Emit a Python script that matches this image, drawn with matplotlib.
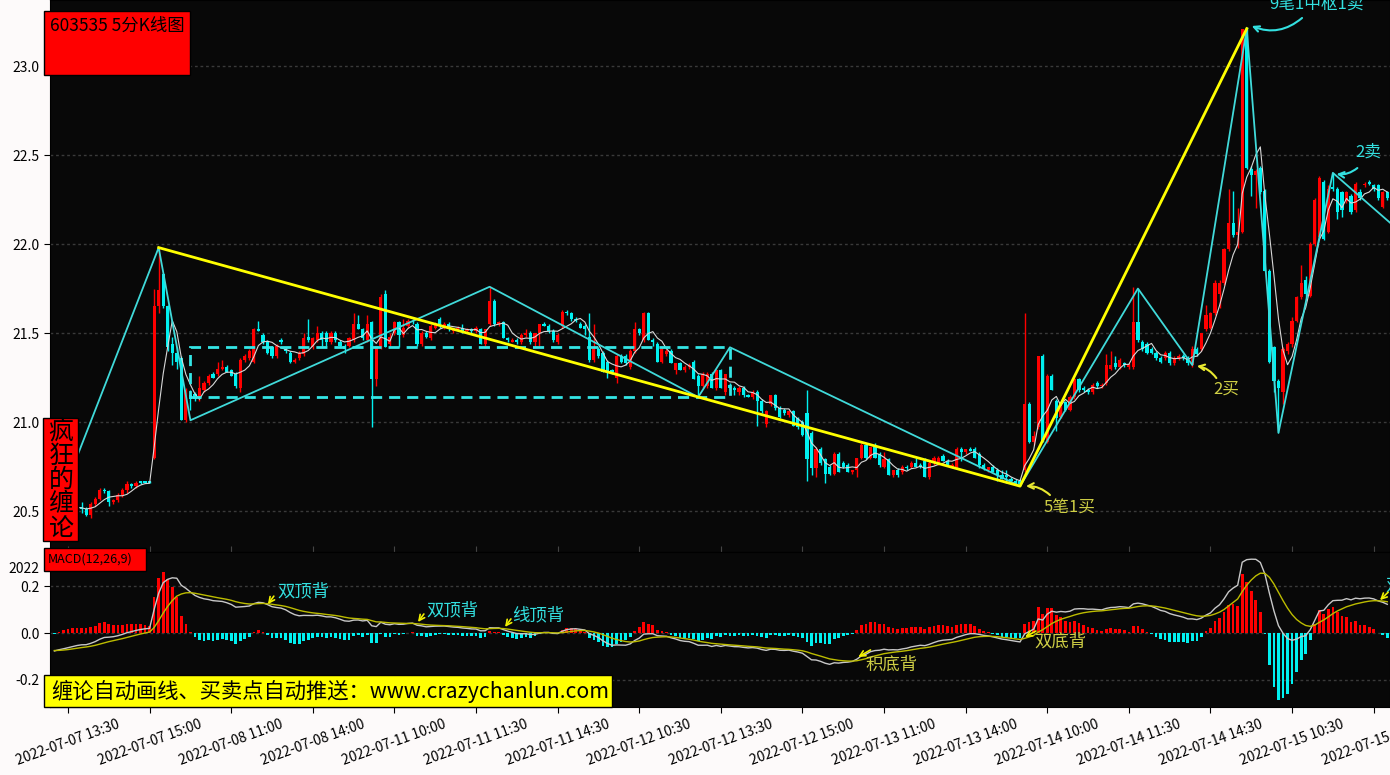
import numpy as np
import pandas as pd
import matplotlib
matplotlib.use('Agg')
import matplotlib.pyplot as plt
from matplotlib.patches import Rectangle

plt.rcParams['font.family'] = ['Noto Sans CJK SC', 'DejaVu Sans']
plt.rcParams['axes.unicode_minus'] = False

W, H = 1390, 775

# 5 min bars, 2022-07-07 13:15 ... 2022-07-15 13:50
opens = [
    20.53, 20.50, 20.52, 20.51, 20.52, 20.53, 20.52, 20.51, 20.48, 20.54,
    20.57, 20.62, 20.61, 20.55, 20.56, 20.59, 20.62, 20.65, 20.64, 20.67,
    20.67, 20.67, 20.80, 21.65, 21.83, 21.65, 21.44, 21.39, 21.36, 21.01,
    21.15, 21.16, 21.13, 21.18, 21.22, 21.27, 21.27, 21.30, 21.31, 21.29,
    21.27, 21.19, 21.35, 21.36, 21.34, 21.52, 21.49, 21.45, 21.42, 21.37,
    21.46, 21.41, 21.39, 21.34, 21.36, 21.38, 21.48, 21.42, 21.46, 21.50,
    21.50, 21.45, 21.50, 21.45, 21.43, 21.43, 21.46, 21.55, 21.52, 21.46,
    21.56, 21.24, 21.43, 21.72, 21.44, 21.50, 21.56, 21.49, 21.54, 21.57,
    21.55, 21.44, 21.50, 21.47, 21.53, 21.58, 21.53, 21.55, 21.51, 21.52,
    21.53, 21.51, 21.52, 21.51, 21.52, 21.44, 21.55, 21.68, 21.55, 21.56,
    21.47, 21.45, 21.46, 21.45, 21.49, 21.50, 21.45, 21.50, 21.55, 21.54,
    21.51, 21.45, 21.54, 21.62, 21.61, 21.58, 21.55, 21.54, 21.48, 21.35,
    21.41, 21.39, 21.34, 21.29, 21.25, 21.37, 21.37, 21.31, 21.40, 21.52,
    21.46, 21.61, 21.46, 21.44, 21.34, 21.38, 21.40, 21.29, 21.33, 21.29,
    21.31, 21.34, 21.26, 21.20, 21.20, 21.27, 21.19, 21.29, 21.17, 21.21,
    21.19, 21.17, 21.19, 21.15, 21.14, 21.17, 21.12, 20.99, 21.10, 21.15,
    21.08, 21.07, 21.04, 21.06, 21.02, 21.00, 21.05, 20.94, 20.74, 20.85,
    20.79, 20.75, 20.71, 20.82, 20.77, 20.76, 20.72, 20.73, 20.80, 20.87,
    20.80, 20.86, 20.82, 20.75, 20.79, 20.70, 20.73, 20.72, 20.75, 20.75,
    20.77, 20.76, 20.78, 20.69, 20.77, 20.77, 20.81, 20.78, 20.75, 20.75,
    20.85, 20.83, 20.85, 20.85, 20.82, 20.76, 20.73, 20.75, 20.73, 20.70,
    20.70, 20.68, 20.67, 20.67, 20.73, 21.10, 20.89, 20.97, 21.37, 20.89,
    21.26, 21.12, 21.03, 21.11, 21.07, 21.14, 21.24, 21.19, 21.18, 21.17,
    21.22, 21.20, 21.22, 21.30, 21.33, 21.31, 21.33, 21.31, 21.31, 21.56,
    21.45, 21.44, 21.41, 21.39, 21.36, 21.36, 21.39, 21.33, 21.36, 21.37,
    21.36, 21.32, 21.41, 21.41, 21.52, 21.53, 21.61, 21.72, 21.78, 21.97,
    22.12, 22.05, 22.07, 23.21, 22.42, 22.39, 22.43, 22.30, 21.85, 21.42,
    21.23, 21.17, 21.40, 21.44, 21.57, 21.70, 21.80, 21.71, 22.00, 22.04,
    22.35, 22.07, 22.32, 22.31, 22.29, 22.24, 22.27, 22.19, 22.29, 22.33,
    22.35, 22.33, 22.33, 22.21, 22.29,
]
highs = [
    20.54, 20.53, 20.54, 20.53, 20.54, 20.55, 20.55, 20.52, 20.55, 20.58,
    20.63, 20.63, 20.62, 20.57, 20.60, 20.63, 20.67, 20.66, 20.67, 20.67,
    20.67, 20.67, 21.75, 21.98, 21.84, 21.66, 21.48, 21.42, 21.37, 21.19,
    21.18, 21.17, 21.26, 21.23, 21.27, 21.28, 21.34, 21.35, 21.32, 21.30,
    21.28, 21.36, 21.38, 21.41, 21.53, 21.57, 21.50, 21.46, 21.43, 21.44,
    21.47, 21.42, 21.40, 21.36, 21.40, 21.50, 21.58, 21.48, 21.54, 21.51,
    21.51, 21.51, 21.51, 21.46, 21.44, 21.48, 21.61, 21.60, 21.53, 21.60,
    21.57, 21.43, 21.72, 21.74, 21.50, 21.57, 21.57, 21.58, 21.58, 21.58,
    21.56, 21.51, 21.51, 21.55, 21.56, 21.59, 21.56, 21.56, 21.53, 21.54,
    21.55, 21.53, 21.53, 21.54, 21.53, 21.52, 21.76, 21.69, 21.57, 21.57,
    21.48, 21.47, 21.47, 21.50, 21.52, 21.51, 21.50, 21.55, 21.56, 21.55,
    21.52, 21.50, 21.63, 21.63, 21.62, 21.59, 21.56, 21.55, 21.61, 21.55,
    21.42, 21.40, 21.35, 21.30, 21.38, 21.38, 21.38, 21.41, 21.56, 21.53,
    21.62, 21.62, 21.47, 21.45, 21.42, 21.41, 21.41, 21.33, 21.34, 21.32,
    21.33, 21.35, 21.27, 21.28, 21.28, 21.28, 21.30, 21.30, 21.27, 21.22,
    21.20, 21.20, 21.20, 21.16, 21.18, 21.18, 21.13, 21.07, 21.15, 21.16,
    21.09, 21.08, 21.07, 21.07, 21.03, 21.01, 21.18, 20.95, 20.86, 20.86,
    20.80, 20.76, 20.83, 20.83, 20.78, 20.77, 20.73, 20.80, 20.88, 20.88,
    20.86, 20.88, 20.83, 20.83, 20.80, 20.73, 20.74, 20.76, 20.76, 20.78,
    20.80, 20.77, 20.80, 20.78, 20.81, 20.81, 20.82, 20.79, 20.77, 20.86,
    20.86, 20.85, 20.86, 20.86, 20.83, 20.77, 20.75, 20.76, 20.74, 20.73,
    20.73, 20.69, 20.68, 20.68, 21.61, 21.11, 20.95, 21.37, 21.38, 21.27,
    21.27, 21.13, 21.12, 21.12, 21.15, 21.25, 21.25, 21.20, 21.19, 21.22,
    21.23, 21.22, 21.38, 21.40, 21.37, 21.36, 21.34, 21.33, 21.76, 21.75,
    21.46, 21.45, 21.42, 21.40, 21.37, 21.40, 21.40, 21.37, 21.38, 21.38,
    21.37, 21.43, 21.42, 21.50, 21.66, 21.62, 21.80, 21.80, 21.98, 22.31,
    22.30, 22.20, 23.21, 23.22, 22.44, 22.42, 22.44, 22.31, 21.86, 21.43,
    21.24, 21.42, 21.45, 21.59, 21.71, 21.88, 21.82, 22.01, 22.26, 22.38,
    22.36, 22.33, 22.40, 22.32, 22.30, 22.30, 22.28, 22.35, 22.31, 22.35,
    22.36, 22.34, 22.34, 22.30, 22.30,
]
lows = [
    20.48, 20.49, 20.50, 20.50, 20.51, 20.51, 20.49, 20.47, 20.46, 20.53,
    20.56, 20.60, 20.53, 20.54, 20.55, 20.58, 20.60, 20.63, 20.63, 20.65,
    20.66, 20.66, 20.79, 21.61, 21.64, 21.40, 21.32, 21.30, 21.01, 21.00,
    21.07, 21.12, 21.12, 21.17, 21.21, 21.25, 21.26, 21.29, 21.28, 21.26,
    21.19, 21.17, 21.34, 21.35, 21.33, 21.51, 21.44, 21.38, 21.36, 21.36,
    21.44, 21.39, 21.33, 21.33, 21.35, 21.37, 21.45, 21.41, 21.45, 21.43,
    21.43, 21.44, 21.45, 21.42, 21.39, 21.42, 21.45, 21.52, 21.46, 21.45,
    20.97, 21.20, 21.41, 21.42, 21.43, 21.49, 21.42, 21.48, 21.53, 21.55,
    21.43, 21.43, 21.47, 21.46, 21.52, 21.53, 21.52, 21.51, 21.50, 21.51,
    21.50, 21.50, 21.50, 21.50, 21.44, 21.43, 21.54, 21.54, 21.54, 21.47,
    21.45, 21.45, 21.44, 21.44, 21.48, 21.44, 21.42, 21.43, 21.54, 21.50,
    21.45, 21.44, 21.53, 21.60, 21.57, 21.56, 21.53, 21.49, 21.34, 21.34,
    21.36, 21.28, 21.25, 21.27, 21.22, 21.33, 21.32, 21.30, 21.39, 21.49,
    21.45, 21.46, 21.43, 21.34, 21.33, 21.37, 21.33, 21.27, 21.29, 21.28,
    21.30, 21.24, 21.15, 21.19, 21.19, 21.19, 21.18, 21.19, 21.15, 21.18,
    21.15, 21.15, 21.14, 21.14, 21.13, 20.98, 21.05, 20.97, 21.09, 21.07,
    21.02, 21.04, 21.03, 20.98, 20.96, 20.92, 20.67, 20.70, 20.69, 20.76,
    20.66, 20.70, 20.70, 20.72, 20.74, 20.72, 20.71, 20.69, 20.79, 20.79,
    20.79, 20.80, 20.75, 20.74, 20.70, 20.69, 20.69, 20.71, 20.73, 20.74,
    20.75, 20.74, 20.69, 20.68, 20.76, 20.76, 20.78, 20.76, 20.74, 20.74,
    20.78, 20.82, 20.84, 20.80, 20.74, 20.73, 20.72, 20.72, 20.67, 20.68,
    20.66, 20.67, 20.65, 20.64, 20.72, 20.88, 20.87, 20.96, 20.89, 20.88,
    21.18, 20.95, 21.02, 21.06, 21.06, 21.13, 21.17, 21.17, 21.16, 21.16,
    21.19, 21.19, 21.21, 21.29, 21.30, 21.30, 21.31, 21.30, 21.30, 21.45,
    21.40, 21.38, 21.38, 21.35, 21.33, 21.35, 21.32, 21.32, 21.35, 21.35,
    21.32, 21.31, 21.37, 21.40, 21.51, 21.52, 21.60, 21.64, 21.77, 21.96,
    22.04, 21.98, 22.06, 22.42, 22.27, 22.20, 22.28, 21.85, 21.33, 21.17,
    20.94, 21.10, 21.38, 21.42, 21.56, 21.69, 21.70, 21.70, 21.99, 22.02,
    22.02, 22.06, 22.30, 22.14, 22.15, 22.23, 22.17, 22.18, 22.25, 22.32,
    22.33, 22.30, 22.25, 22.20, 22.25,
]
closes = [
    20.50, 20.52, 20.51, 20.52, 20.53, 20.52, 20.51, 20.48, 20.54, 20.57,
    20.62, 20.61, 20.55, 20.56, 20.59, 20.62, 20.65, 20.64, 20.66, 20.66,
    20.66, 20.66, 21.65, 21.74, 21.65, 21.42, 21.39, 21.34, 21.01, 21.18,
    21.13, 21.13, 21.19, 21.22, 21.26, 21.25, 21.30, 21.31, 21.28, 21.26,
    21.20, 21.35, 21.37, 21.40, 21.52, 21.51, 21.45, 21.39, 21.37, 21.43,
    21.45, 21.40, 21.34, 21.35, 21.39, 21.47, 21.46, 21.47, 21.50, 21.46,
    21.45, 21.50, 21.46, 21.43, 21.41, 21.47, 21.55, 21.52, 21.47, 21.55,
    21.24, 21.43, 21.70, 21.42, 21.48, 21.56, 21.49, 21.53, 21.57, 21.56,
    21.44, 21.50, 21.48, 21.54, 21.55, 21.54, 21.55, 21.52, 21.52, 21.53,
    21.51, 21.52, 21.51, 21.53, 21.44, 21.52, 21.68, 21.55, 21.56, 21.47,
    21.46, 21.46, 21.45, 21.49, 21.50, 21.45, 21.50, 21.55, 21.54, 21.51,
    21.46, 21.49, 21.62, 21.61, 21.58, 21.57, 21.53, 21.52, 21.35, 21.42,
    21.37, 21.28, 21.28, 21.28, 21.37, 21.34, 21.33, 21.40, 21.52, 21.50,
    21.61, 21.46, 21.45, 21.34, 21.41, 21.40, 21.33, 21.33, 21.29, 21.31,
    21.32, 21.24, 21.20, 21.27, 21.27, 21.19, 21.29, 21.19, 21.27, 21.19,
    21.18, 21.19, 21.15, 21.14, 21.17, 21.12, 21.06, 21.06, 21.15, 21.08,
    21.03, 21.05, 21.06, 20.98, 20.97, 20.93, 20.79, 20.74, 20.85, 20.77,
    20.71, 20.71, 20.82, 20.72, 20.75, 20.72, 20.73, 20.80, 20.87, 20.80,
    20.86, 20.80, 20.76, 20.79, 20.70, 20.73, 20.70, 20.75, 20.74, 20.77,
    20.75, 20.75, 20.69, 20.77, 20.80, 20.80, 20.78, 20.76, 20.76, 20.85,
    20.83, 20.85, 20.84, 20.80, 20.76, 20.74, 20.75, 20.72, 20.70, 20.68,
    20.69, 20.67, 20.66, 20.65, 21.10, 20.89, 20.92, 21.37, 20.89, 21.26,
    21.18, 21.02, 21.11, 21.07, 21.14, 21.24, 21.18, 21.18, 21.17, 21.21,
    21.20, 21.21, 21.32, 21.32, 21.31, 21.35, 21.32, 21.32, 21.56, 21.46,
    21.41, 21.39, 21.39, 21.36, 21.34, 21.39, 21.33, 21.36, 21.37, 21.36,
    21.33, 21.41, 21.38, 21.50, 21.60, 21.61, 21.78, 21.78, 21.97, 22.12,
    22.05, 22.07, 23.21, 22.43, 22.39, 22.41, 22.29, 21.85, 21.34, 21.23,
    21.19, 21.41, 21.44, 21.57, 21.70, 21.78, 21.72, 22.00, 22.25, 22.37,
    22.03, 22.31, 22.31, 22.18, 22.19, 22.29, 22.18, 22.34, 22.26, 22.34,
    22.34, 22.31, 22.26, 22.29, 22.26,
]

tick_labels = [
    '2022-07-07 13:30', '2022-07-07 15:00', '2022-07-08 11:00', '2022-07-08 14:00',
    '2022-07-11 10:00', '2022-07-11 11:30', '2022-07-11 14:30', '2022-07-12 10:30',
    '2022-07-12 13:30', '2022-07-12 15:00', '2022-07-13 11:00', '2022-07-13 14:00',
    '2022-07-14 10:00', '2022-07-14 11:30', '2022-07-14 14:30', '2022-07-15 10:30',
    '2022-07-15 13:30',
]

# 笔 / 线段 / 中枢
bi_idx = [0, 23, 30, 96, 142, 149, 213, 239, 251, 263, 270, 282, 300]
bi_price = [20.48, 21.98, 21.01, 21.76, 21.14, 21.42, 20.64, 21.75, 21.32, 23.21, 20.94, 22.40, 22.00]
seg_idx = [23, 213, 263]
seg_price = [21.98, 20.64, 23.21]
zs_start, zs_end = 30, 149
zs_low, zs_high = 21.142, 21.42

# macd state just before the first bar
prior_fast_gap = 0.03
prior_slow_gap = 0.11
prior_dea = -0.074

RED = '#ff0000'
CYAN = '#00f0f0'
CYAN_TXT = '#33e0e0'
OLIVE = '#cfcf45'

o = np.array(opens)
h = np.array(highs)
l = np.array(lows)
c = np.array(closes)
x = np.arange(len(c))

ma5 = pd.Series(c).rolling(5).mean()

e12 = c[0] + prior_fast_gap
e26 = c[0] + prior_slow_gap
dea = prior_dea
dif_l, dea_l = [], []
for v in c:
    e12 += (v - e12) * 2 / 13
    e26 += (v - e26) * 2 / 27
    d = e12 - e26
    dea += (d - dea) * 2 / 10
    dif_l.append(d)
    dea_l.append(dea)
dif = np.array(dif_l)
dea_a = np.array(dea_l)
hist = 2 * (dif - dea_a)

fig = plt.figure(figsize=(W / 100, H / 100), dpi=100)
fig.patch.set_facecolor('#fdfafa')

ax = fig.add_axes([50 / W, (H - 552) / H, 1 - 50 / W, 552 / H])
ax2 = fig.add_axes([50 / W, (H - 707) / H, 1 - 50 / W, 155 / H], sharex=ax)

for a in (ax, ax2):
    a.set_facecolor('#080808')
    for s in a.spines.values():
        s.set_color('black')

# candles
up = c >= o
col = np.where(up, RED, CYAN)
ax.vlines(x, l, h, colors=col, lw=1, zorder=2)
body = np.maximum(np.abs(c - o), 0.004)
ax.bar(x, body, bottom=np.minimum(o, c), width=0.7, color=col, linewidth=0, zorder=3)
ax.plot(x, ma5, color='#d8d8d8', lw=0.8, zorder=4)

ax.plot(bi_idx, bi_price, color='#40dada', lw=1.3, zorder=5)
ax.plot(seg_idx, seg_price, color='#ffff00', lw=2.0, zorder=6)
ax.add_patch(Rectangle((zs_start, zs_low), zs_end - zs_start, zs_high - zs_low,
                       fill=False, ec='#33e6e6', lw=2, ls=(0, (4, 2.5)), zorder=5))

ax.set_xlim(-0.97, 294.6)
ax.set_ylim(20.27, 23.371)
yt = [20.5, 21.0, 21.5, 22.0, 22.5, 23.0]
ax.set_yticks(yt, labels=['%.1f' % v for v in yt])
for v in yt:
    ax.axhline(v, color='#3a3a3a', lw=1, ls=(0, (2, 2)), zorder=1)
tick_pos = list(range(3, 295, 18))
ax.set_xticks(tick_pos)
ax.tick_params(axis='x', direction='in', length=4, color='#444444', labelbottom=False)
ax.tick_params(axis='y', labelsize=10, length=4)

# macd panel
hcol = np.where(hist >= 0, RED, CYAN)
ax2.bar(x, hist, width=0.6, color=hcol, linewidth=0, zorder=2)
ax2.plot(x, dif, color='#c8c8c8', lw=1.0, zorder=3)
ax2.plot(x, dea_a, color='#bcbc00', lw=1.0, zorder=3)
ax2.set_ylim(-0.315, 0.345)
for v in (-0.2, 0.0, 0.2):
    ax2.axhline(v, color='#3a3a3a', lw=1, ls=(0, (2, 2)), zorder=1)
ax2.set_yticks([-0.2, 0.0, 0.2, 0.281], labels=['-0.2', '0.0', '0.2', '2022'])
ax2.set_xticks(tick_pos, labels=tick_labels[:len(tick_pos)])
ax2.tick_params(axis='x', labelsize=10, rotation=20, length=4)
ax2.tick_params(axis='y', labelsize=10, length=4)
for t in ax2.get_xticklabels():
    t.set_ha('center')


def arrow(a, tail, tip, color, rad=0.0, lw=1.5):
    a.annotate('', xy=tip, xytext=tail, annotation_clip=False,
               arrowprops=dict(arrowstyle='->', color=color, lw=lw, shrinkA=0, shrinkB=0,
                               connectionstyle='arc3,rad=%s' % rad))


# main chart signals
ax.text(278.3, 23.348, '9笔1中枢1卖', color=CYAN_TXT, fontsize=12, ha='center', va='center', clip_on=False)
arrow(ax, (275.2, 23.27), (264.1, 23.225), CYAN_TXT, rad=-0.3)
ax.text(289.8, 22.517, '2卖', color=CYAN_TXT, fontsize=12, ha='center', va='center')
arrow(ax, (287.4, 22.427), (282.8, 22.393), CYAN_TXT, rad=-0.2)
ax.text(258.5, 21.185, '2买', color=OLIVE, fontsize=12, ha='center', va='center')
arrow(ax, (256.3, 21.247), (252.0, 21.315), '#e8e830', rad=0.2)
ax.text(223.8, 20.517, '5笔1买', color=OLIVE, fontsize=12, ha='center', va='center')
arrow(ax, (219.6, 20.59), (214.3, 20.64), '#e8e830', rad=0.2)

# macd divergences
macd_notes = [
    ('双顶背', CYAN_TXT, (49.1, 0.179), (48.4, 0.157), (47.1, 0.123)),
    ('双顶背', CYAN_TXT, (82.0, 0.098), (81.5, 0.081), (80.2, 0.047)),
    ('线顶背', CYAN_TXT, (100.9, 0.077), (100.7, 0.060), (99.4, 0.026)),
    ('积底背', OLIVE, (179.0, -0.136), (180.0, -0.072), (177.3, -0.102)),
    ('双底背', OLIVE, (216.1, -0.038), (216.5, 0.0085), (214.1, -0.017)),
    ('双顶背', CYAN_TXT, (293.6, 0.204), (294.2, 0.174), (292.4, 0.140)),
]
for txt, tc, pos, tail, tip in macd_notes:
    ax2.text(pos[0], pos[1], txt, color=tc, fontsize=12.5, ha='left', va='center', clip_on=False)
    arrow(ax2, tail, tip, '#f0f000', lw=1.2)


def fig_box(x0, y0, x1, y1, fc):
    fig.add_artist(Rectangle((x0 / W, 1 - y1 / H), (x1 - x0) / W, (y1 - y0) / H,
                             transform=fig.transFigure, fc=fc, ec='black', lw=1, zorder=10))


fig_box(44, 11, 190, 75, RED)
fig.text(50 / W, 1 - 26 / H, '603535 5分K线图', fontsize=12.5, color='black', va='center', zorder=11)
fig_box(43, 418, 78, 541, RED)
fig.text(61 / W, 1 - 480 / H, '疯\n狂\n的\n缠\n论', fontsize=18, color='black',
         ha='center', va='center', linespacing=0.92, zorder=11)
fig_box(44, 548, 146, 571, RED)
fig.text(48 / W, 1 - 559.5 / H, 'MACD(12,26,9)', fontsize=9, color='black', va='center', zorder=11)
fig_box(44, 675, 612, 707, '#ffff00')
fig.text(51 / W, 1 - 691 / H, '缠论自动画线、买卖点自动推送：www.crazychanlun.com', fontsize=15.3,
         color='black', va='center', zorder=11)

fig.savefig('out.png', dpi=100, facecolor=fig.get_facecolor())
